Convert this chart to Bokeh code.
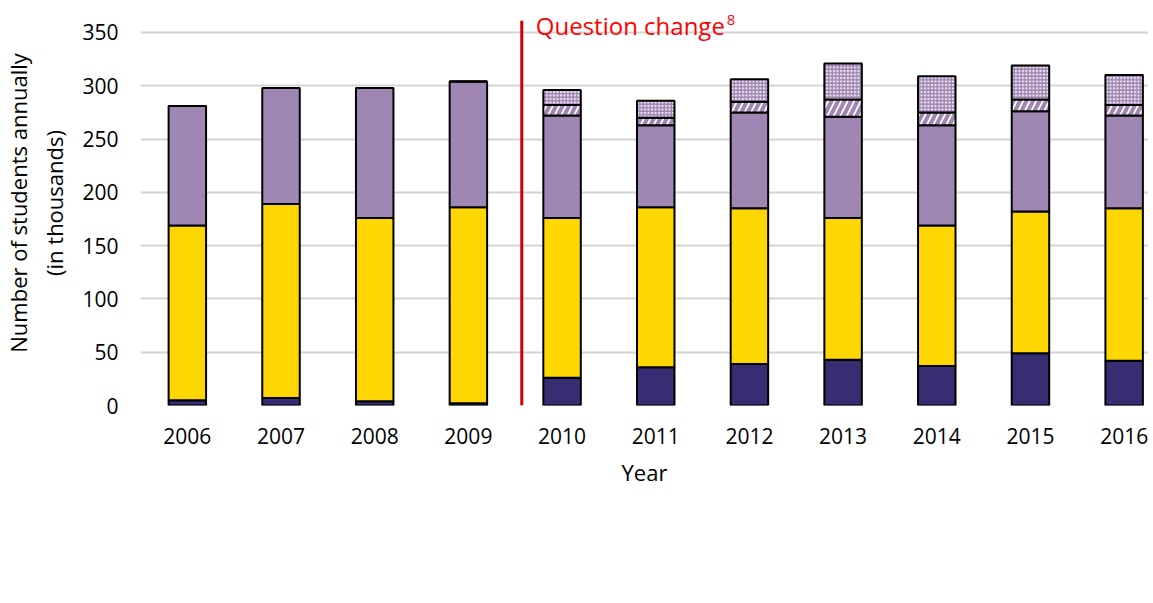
from bokeh.plotting import figure
from bokeh.models import ColumnDataSource, FixedTicker, Range1d, Legend, LegendItem, Label
from bokeh.embed import file_html
from bokeh.resources import INLINE

# ---- data (thousands of students) ----
years = [2006, 2007, 2008, 2009, 2010, 2011, 2012, 2013, 2014, 2015, 2016]
ks1 = [5, 7, 4, 2, 26, 36, 39, 43, 37, 49, 42]
ks2 = [164, 182, 172, 184, 150, 150, 146, 133, 132, 133, 143]
ks34 = [112, 109, 122, 118, 96, 77, 90, 95, 94, 94, 87]
age16_18 = [0, 0, 0, 0, 10, 7, 10, 16, 12, 11, 10]
age18p = [0, 0, 0, 0, 14, 16, 21, 34, 34, 32, 28]
series_labels = ["KS1: Nursery / Pre-prep", "KS2: Primary / Prep",
                 "KS3/4: Secondary / Senior", "16 - 18 (post 2009)", "18+ (post 2009)"]
y_ticks = [0, 50, 100, 150, 200, 250, 300, 350]
question_change_year = 2009.57

FONT = "Open Sans"
src = ColumnDataSource(dict(year=years, ks1=ks1, ks2=ks2, ks34=ks34,
                            a16=age16_18, a18=age18p))

p = figure(frame_width=1008, frame_height=405, output_backend="svg", toolbar_location=None,
           x_range=Range1d(2005.5, 2016.26), y_range=Range1d(0, 380),
           min_border_left=129, min_border_right=0, min_border_top=0,
           min_border_bottom=180)
p.outline_line_color = None
p.background_fill_color = "white"

stackers = ["ks1", "ks2", "ks34", "a16", "a18"]
rs = p.vbar_stack(stackers, x="year", width=0.4, source=src,
                  fill_color=["#372d72", "#ffd700", "#a086b2", "white", "#ece6f1"],
                  line_color="black", line_width=2,
                  hatch_pattern=[" ", " ", " ", "/", "+"],
                  hatch_color="#a086b2",
                  hatch_scale=[1, 1, 1, 13, 3.5],
                  hatch_weight=[1, 1, 1, 4, 1.4])

# red "question change" divider
p.segment(x0=[question_change_year], y0=[0], x1=[question_change_year], y1=[361],
          line_color="#cc0000", line_width=3)
p.add_layout(Label(x=question_change_year, y=357, x_offset=14, text="Question change",
                   text_color="#ff0000", text_font=FONT, text_font_size="24px",
                   text_baseline="alphabetic"))
p.add_layout(Label(x=question_change_year, y=362, x_offset=205, text="8",
                   text_color="#ff0000", text_font=FONT, text_font_size="15px",
                   text_baseline="alphabetic"))

# axes
p.xaxis.ticker = FixedTicker(ticks=years)
p.xaxis.axis_label = "Year"
p.yaxis.ticker = FixedTicker(ticks=y_ticks)
p.yaxis.axis_label = "Number of students annually\n(in thousands)"
for ax in (p.xaxis[0], p.yaxis[0]):
    ax.axis_line_color = None
    ax.major_tick_line_color = None
    ax.minor_tick_line_color = None
    ax.major_label_text_font = FONT
    ax.major_label_text_font_size = "21px"
    ax.major_label_text_color = "black"
    ax.axis_label_text_font = FONT
    ax.axis_label_text_font_size = "22px"
    ax.axis_label_text_font_style = "normal"
    ax.axis_label_text_color = "black"
p.xaxis.major_label_standoff = 16
p.xaxis.axis_label_standoff = 10
p.yaxis.major_label_standoff = 16
p.yaxis.axis_label_standoff = 10

p.xgrid.grid_line_color = None
p.ygrid.ticker = FixedTicker(ticks=y_ticks)
p.ygrid.grid_line_color = "#d4d4d4"
p.ygrid.grid_line_width = 2


def make_legend(idx, row_height):
    return Legend(items=[LegendItem(label=series_labels[i], renderers=[rs[i]]) for i in idx],
                  orientation="horizontal", location="top_left",
                  label_text_font=FONT, label_text_font_size="22px",
                  glyph_width=14, glyph_height=14, label_standoff=10,
                  label_width=298, label_height=row_height,
                  spacing=18, padding=0, margin=0, border_line_color=None,
                  background_fill_alpha=0)


p.add_layout(make_legend([0, 1, 2], 64), "below")
p.add_layout(make_legend([3, 4], 30), "below")

open("out.html", "w").write(file_html(p, INLINE))
